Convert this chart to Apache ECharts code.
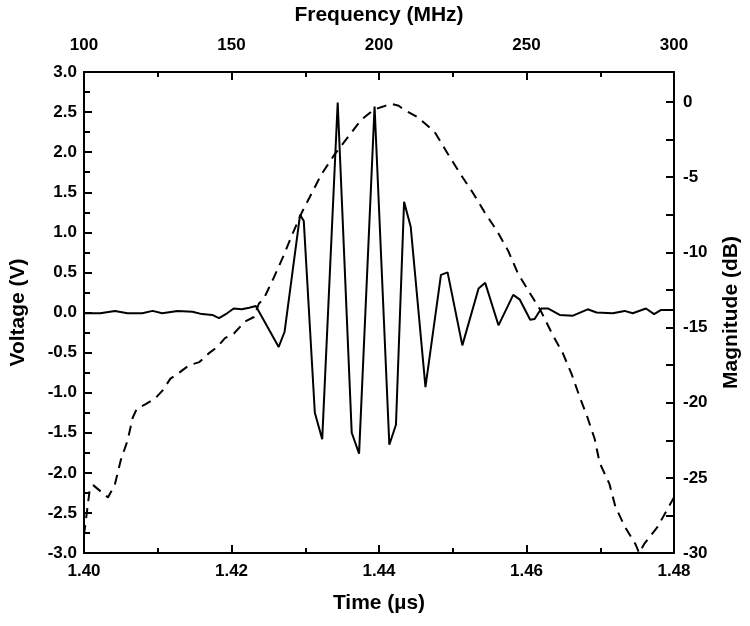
<!DOCTYPE html>
<html>
<head>
<meta charset="utf-8">
<script src="https://cdn.jsdelivr.net/npm/echarts@6/dist/echarts.min.js"></script>
<style>
  html, body { margin: 0; padding: 0; background: #fff; }
  #main { width: 750px; height: 626px; }
</style>
</head>
<body>
<div id="main"></div>
<script>
// time domain pulse (bottom / left axes)
var times = [1.4000, 1.4012, 1.4022, 1.4042, 1.4059, 1.4079, 1.4093, 1.4106, 1.4127, 1.4147,
  1.4160, 1.4174, 1.4183, 1.4194, 1.4203, 1.4214, 1.4224, 1.4233, 1.4264, 1.4272,
  1.4293, 1.4298, 1.4313, 1.4323, 1.4344, 1.4363, 1.4373, 1.4394, 1.4414, 1.4423,
  1.4434, 1.4443, 1.4463, 1.4484, 1.4493, 1.4513, 1.4535, 1.4544, 1.4562, 1.4582,
  1.4591, 1.4605, 1.4611, 1.4620, 1.4629, 1.4645, 1.4663, 1.4683, 1.4695, 1.4717,
  1.4733, 1.4744, 1.4762, 1.4773, 1.4782, 1.4800];
var volts = [-0.01, -0.01, -0.01, 0.02, -0.01, -0.01, 0.02, -0.01, 0.02, 0.01,
  -0.02, -0.03, -0.07, -0.01, 0.05, 0.04, 0.06, 0.08, -0.43, -0.24,
  1.22, 1.14, -1.25, -1.58, 2.62, -1.50, -1.76, 2.57, -1.65, -1.40,
  1.38, 1.07, -0.93, 0.47, 0.50, -0.41, 0.30, 0.37, -0.16, 0.22,
  0.16, -0.09, -0.08, 0.05, 0.05, -0.03, -0.04, 0.04, 0.00, -0.01,
  0.02, -0.01, 0.05, -0.02, 0.03, 0.03];

// spectrum (top / right axes)
var freqs = [100.0, 102.0, 103.2, 108.1, 110.4, 112.5, 114.8, 116.5, 117.9, 120.9,
  124.2, 126.6, 129.3, 132.3, 135.7, 139.1, 142.4, 145.1, 147.8, 150.8,
  154.6, 157.6, 159.3, 160.9, 162.6, 164.3, 167.7, 170.4, 173.7, 177.1,
  180.5, 184.9, 189.6, 193.9, 198.3, 201.4, 204.0, 206.7, 208.4, 213.1,
  218.9, 223.2, 227.3, 231.7, 235.7, 240.1, 243.8, 247.1, 250.8, 254.6,
  258.9, 262.3, 265.3, 268.0, 270.7, 273.1, 274.8, 278.1, 280.1, 283.2,
  286.9, 288.2, 289.9, 294.3, 300.0];
var dbVals = [-28.8, -25.7, -25.5, -26.3, -25.5, -23.8, -22.5, -21.0, -20.4, -20.1,
  -19.7, -19.2, -18.4, -18.0, -17.5, -17.3, -16.7, -16.3, -15.7, -15.4,
  -14.6, -14.3, -13.4, -13.1, -12.4, -11.7, -10.2, -8.9, -7.4, -6.1,
  -4.8, -3.5, -2.3, -1.2, -0.5, -0.3, -0.1, -0.25, -0.5, -1.0,
  -2.0, -3.4, -4.7, -6.0, -7.3, -8.6, -9.9, -11.4, -12.6, -13.8,
  -15.5, -16.7, -18.1, -19.6, -21.0, -22.4, -24.0, -25.4, -26.9, -28.2,
  -29.4, -30.0, -29.4, -28.3, -26.3];

var pulse = [];
for (var i = 0; i < times.length; i++) pulse.push([times[i], volts[i]]);
var spectrum = [];
for (var j = 0; j < freqs.length; j++) spectrum.push([freqs[j], dbVals[j]]);

var fontFam = '"Liberation Sans", Arial, sans-serif';
var lblStyle = { color: '#000', fontFamily: fontFam, fontWeight: 'bold', fontSize: 17 };
var nameStyle = { color: '#000', fontFamily: fontFam, fontWeight: 'bold', fontSize: 21 };
var lineAx = { show: true, onZero: false, lineStyle: { color: '#000', width: 2 } };

var myChart = echarts.init(document.getElementById('main'));

var option = {
  animation: false,
  backgroundColor: '#fff',
  grid: { left: 81, right: 75, top: 72, bottom: 73, containLabel: false },
  xAxis: [
    {
      type: 'value', position: 'bottom', min: 1.40, max: 1.48, interval: 0.02,
      name: 'Time (\u00b5s)', nameLocation: 'middle', nameGap: 40, nameTextStyle: nameStyle,
      axisLine: lineAx,
      axisTick: { inside: true, length: 8, lineStyle: { color: '#000', width: 2 } },
      minorTick: { show: true, splitNumber: 2, length: 5, lineStyle: { color: '#000', width: 2 } },
      axisLabel: Object.assign({ margin: 10, formatter: function (v) { return v.toFixed(2); } }, lblStyle),
      splitLine: { show: false }
    },
    {
      type: 'value', position: 'top', min: 100, max: 300, interval: 50,
      name: 'Frequency (MHz)', nameLocation: 'middle', nameGap: 46, nameTextStyle: nameStyle,
      axisLine: lineAx,
      axisTick: { inside: true, length: 8, lineStyle: { color: '#000', width: 2 } },
      minorTick: { show: true, splitNumber: 2, length: 5, lineStyle: { color: '#000', width: 2 } },
      axisLabel: Object.assign({ margin: 18 }, lblStyle),
      splitLine: { show: false }
    }
  ],
  yAxis: [
    {
      type: 'value', position: 'left', min: -3, max: 3, interval: 0.5,
      name: 'Voltage (V)', nameLocation: 'middle', nameGap: 55, nameTextStyle: nameStyle,
      axisLine: lineAx,
      axisTick: { inside: true, length: 8, lineStyle: { color: '#000', width: 2 } },
      minorTick: { show: true, splitNumber: 2, length: 6, lineStyle: { color: '#000', width: 2 } },
      axisLabel: Object.assign({ margin: 7, formatter: function (v) { return v.toFixed(1); } }, lblStyle),
      splitLine: { show: false }
    },
    {
      type: 'value', position: 'right', min: -30, max: 2, interval: 2.5,
      name: 'Magnitude (dB)', nameLocation: 'middle', nameGap: 47, nameTextStyle: nameStyle,
      axisLine: lineAx,
      axisTick: { inside: true, length: 8, lineStyle: { color: '#000', width: 2 } },
      axisLabel: Object.assign({
        margin: 9,
        formatter: function (v) { return (Math.abs(v % 5) < 1e-6) ? String(v) : ''; }
      }, lblStyle),
      splitLine: { show: false }
    }
  ],
  series: [
    {
      name: 'Voltage', type: 'line', xAxisIndex: 0, yAxisIndex: 0,
      data: pulse, showSymbol: false, smooth: false,
      lineStyle: { color: '#000', width: 2 }
    },
    {
      name: 'Magnitude', type: 'line', xAxisIndex: 1, yAxisIndex: 1,
      data: spectrum, showSymbol: false, smooth: false,
      lineStyle: { color: '#000', width: 2, type: [10, 7] }
    }
  ]
};

myChart.setOption(option);
window.addEventListener('resize', function () { myChart.resize(); });
</script>
</body>
</html>
